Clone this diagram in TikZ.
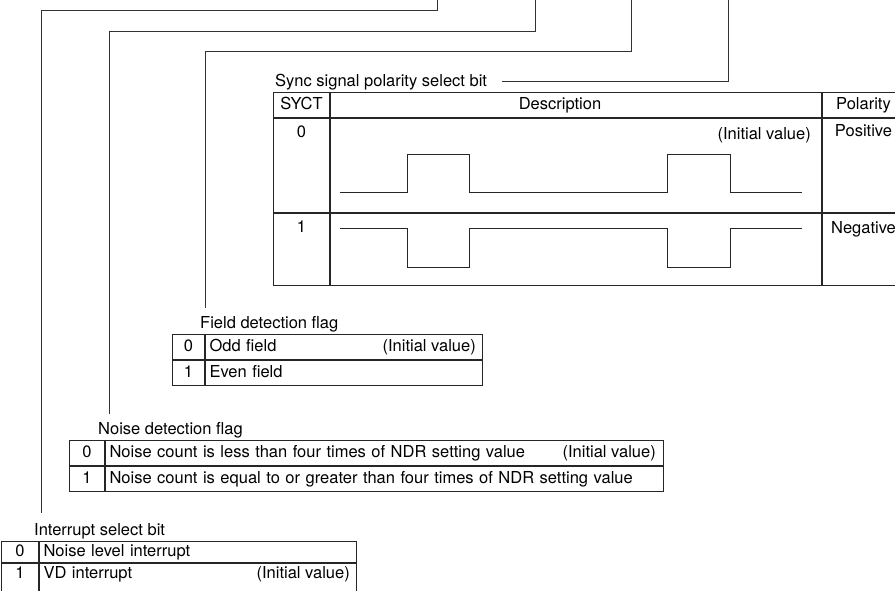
\documentclass[tikz,border=0pt]{standalone}
\usepackage{fontspec}
\setmainfont{TeX Gyre Heros}
\usetikzlibrary{positioning}

\begin{document}
\begin{tikzpicture}[
x=1pt, y=-1pt,
font=\fontsize{16.5}{19}\selectfont,
cell/.style={draw=black!85, line width=1pt, rectangle, inner xsep=4pt, inner ysep=0pt,
  minimum height=25pt, text height=12pt, text depth=3.5pt},
keycell/.style={cell, minimum width=#1},
textcell/.style={cell, align=left, text width=#1},
lbl/.style={inner sep=0pt},
lead/.style={draw=black!80, line width=1pt},
wave/.style={draw=black!85, line width=1pt}
]
\useasboundingbox (0,0) rectangle (895,590);
\clip (0,0) rectangle (895,590);

% sync signal polarity table
\node[cell, minimum width=56, anchor=north west] (syctHd) at (273,92) {SYCT};
\node[cell, minimum width=491, right=0pt of syctHd] (descHd) {};
\node[lbl] (descHdTxt) at ([xshift=-16pt]descHd.center) {Description};
\node[cell, minimum width=82, right=0pt of descHd] (polHd) {Polarity};

\node[cell, minimum width=56, minimum height=94, below=0pt of syctHd] (syct0) {};
\node[cell, minimum width=491, minimum height=94, below=0pt of descHd] (desc0) {};
\node[cell, minimum width=82, minimum height=94, below=0pt of polHd] (pol0) {};
\node[cell, minimum width=56, minimum height=72, below=0pt of syct0] (syct1) {};
\node[cell, minimum width=491, minimum height=72, below=0pt of desc0] (desc1) {};
\node[cell, minimum width=82, minimum height=72, below=0pt of pol0] (pol1) {};

\node[lbl, below=8pt of syct0.north] (syct0Val) {0};
\node[lbl, below=8pt of syct1.north] (syct1Val) {1};
\node[lbl, below left=9pt and 11pt of desc0.north east] (desc0Init) {(Initial value)};
\node[lbl, below=6pt of pol0.north] (pol0Val) {Positive};
\node[lbl, below=8pt of pol1.north] (pol1Val) {Negative};

\node[lbl, above right=2pt and 2pt of syctHd.north west] (syncLbl) {Sync signal polarity select bit};

% waveforms
\draw[wave] (340,192) -| (407,154) -| (469,192) -| (667,154) -| (730,192) -- (802,192);
\draw[wave] (340,228) -| (407,267) -| (469,228) -| (667,267) -| (730,228) -- (802,228);

% field detection flag
\node[keycell=32pt, anchor=north west] (fieldK0) at (172,334) {0};
\node[textcell=269pt, right=0pt of fieldK0] (fieldT0) {Odd field};
\node[keycell=32pt, below=0pt of fieldK0] (fieldK1) {1};
\node[textcell=269pt, below=0pt of fieldT0] (fieldT1) {Even field};
\node[lbl, left=7pt of fieldT0.east] (fieldInit) {(Initial value)};
\node[lbl, above right=2pt and 28pt of fieldK0.north west] (fieldLbl) {Field detection flag};

% noise detection flag
\node[keycell=35pt, anchor=north west] (noiseK0) at (69,440) {0};
\node[textcell=550pt, right=0pt of noiseK0] (noiseT0) {Noise count is less than four times of NDR setting value};
\node[keycell=35pt, below=0pt of noiseK0] (noiseK1) {1};
\node[textcell=550pt, below=0pt of noiseT0] (noiseT1) {Noise count is equal to or greater than four times of NDR setting value};
\node[lbl, left=8pt of noiseT0.east] (noiseInit) {(Initial value)};
\node[lbl, above right=2pt and 29pt of noiseK0.north west] (noiseLbl) {Noise detection flag};

% interrupt select bit
\node[keycell=37pt, minimum height=21pt, anchor=north west] (intK0) at (1,541) {0};
\node[textcell=309pt, minimum height=21pt, right=0pt of intK0] (intT0) {Noise level interrupt};
\node[keycell=37pt, minimum height=30pt, text depth=11.5pt, below=0pt of intK0] (intK1) {1};
\node[textcell=309pt, minimum height=30pt, text depth=11.5pt, below=0pt of intT0] (intT1) {VD interrupt};
\node[lbl, left=7pt of intT1.east, yshift=4pt] (intInit) {(Initial value)};
\node[lbl, above right=2pt and 33pt of intK0.north west] (intLbl) {Interrupt select bit};

% leader lines
\coordinate[above right=10pt and 7pt of intLbl.north west] (intEnd);
\coordinate[above right=8pt and 11pt of noiseLbl.north west] (noiseEnd);
\coordinate[above right=8pt and 5pt of fieldLbl.north west] (fieldEnd);
\coordinate[right=15pt of syncLbl] (syncEnd);
\coordinate (intBend) at (437,10);
\coordinate (noiseBend) at (535,31);
\coordinate (fieldBend) at (631,51);
\coordinate (syncTop) at (728,-2);

\draw[lead] (intEnd) |- (intBend) -- +(0,-14);
\draw[lead] (noiseEnd) |- (noiseBend) -- +(0,-35);
\draw[lead] (fieldEnd) |- (fieldBend) -- +(0,-55);
\draw[lead] (syncEnd) -| (syncTop);

\end{tikzpicture}
\end{document}
